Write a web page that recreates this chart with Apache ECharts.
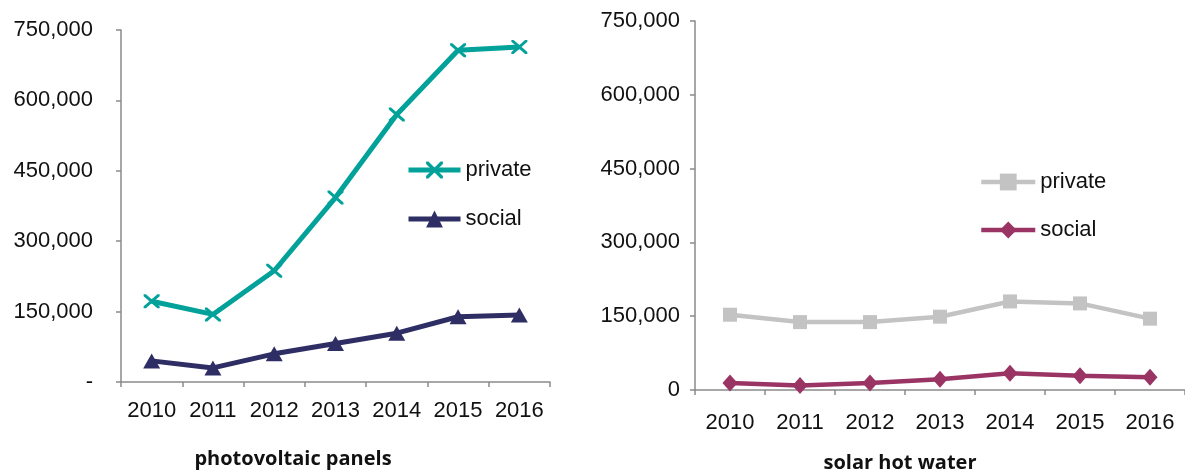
<!DOCTYPE html>
<html>
<head>
<meta charset="utf-8">
<script src="https://cdn.jsdelivr.net/npm/echarts@6/dist/echarts.min.js"></script>
<style>
  html, body { margin: 0; padding: 0; background: #ffffff; }
  #chart { width: 1185px; height: 474px; }
</style>
</head>
<body>
<div id="chart"></div>
<script>
// Installations per year
const years = ['2010', '2011', '2012', '2013', '2014', '2015', '2016'];

// Photovoltaic panels
const pvPrivate = [172000, 144000, 237000, 393000, 570000, 707000, 714000];
const pvSocial = [45000, 30000, 60000, 82000, 104000, 139000, 143000];

// Solar hot water
const shwPrivate = [153000, 138000, 138000, 149000, 180000, 176000, 145000];
const shwSocial = [14000, 9000, 14000, 22000, 34000, 29000, 26000];

// Value axis ticks (shared scale for both panels)
const yTicks = [0, 150000, 300000, 450000, 600000, 750000];
const yTickLabelsPV = ['-', '150,000', '300,000', '450,000', '600,000', '750,000'];
const yTickLabelsSHW = ['0', '150,000', '300,000', '450,000', '600,000', '750,000'];

const panelTitles = ['photovoltaic panels', 'solar hot water'];

const FONT = 'Liberation Sans, Arial, sans-serif';
const AXIS_GRAY = '#8a8a8a';
const TEAL = '#02a19a';
const NAVY = '#2f2e64';
const SILVER = '#c3c3c3';
const PLUM = '#9a3464';

// Cross marker built from two thin filled bars
const CROSS = 'path://M0,0L1.4,0L10,8.6L10,10L8.6,10L0,1.4Z M8.6,0L10,0L10,1.4L1.4,10L0,10L0,8.6Z';

function xAxisFor(gridIndex, margin) {
  return {
    type: 'category',
    gridIndex: gridIndex,
    data: years,
    boundaryGap: true,
    axisLine: { lineStyle: { color: AXIS_GRAY, width: 1.5 } },
    axisTick: { show: true, interval: 0, length: 5, lineStyle: { color: AXIS_GRAY, width: 1.5 } },
    axisLabel: { color: '#111', fontFamily: FONT, fontSize: 22, margin: margin, interval: 0 },
    splitLine: { show: false }
  };
}

function yAxisFor(gridIndex, labels, margin) {
  return {
    type: 'value',
    gridIndex: gridIndex,
    min: yTicks[0],
    max: yTicks[yTicks.length - 1],
    interval: yTicks[1] - yTicks[0],
    axisLine: { show: true, lineStyle: { color: AXIS_GRAY, width: 1.5 } },
    axisTick: { show: true, length: 5, lineStyle: { color: AXIS_GRAY, width: 1.5 } },
    axisLabel: {
      color: '#111', fontFamily: FONT, fontSize: 22, margin: margin,
      formatter: function (v) { return labels[yTicks.indexOf(v)]; }
    },
    splitLine: { show: false }
  };
}

function lineSeries(name, idx, data, color, width, symbol, size) {
  return {
    name: name,
    type: 'line',
    xAxisIndex: idx,
    yAxisIndex: idx,
    data: data,
    symbol: symbol,
    symbolSize: size,
    showAllSymbol: true,
    lineStyle: { color: color, width: width },
    itemStyle: { color: color, borderWidth: 0 },
    emphasis: { disabled: true },
    animation: false,
    z: name.indexOf('private') >= 0 ? 3 : 2
  };
}

const legendText = function (name) { return name.split(' ')[1]; };

const chart = echarts.init(document.getElementById('chart'), null, { renderer: 'canvas' });

chart.setOption({
  backgroundColor: '#ffffff',
  animation: false,
  title: [
    {
      text: panelTitles[0], left: 293, top: 449, textAlign: 'center', padding: 0,
      textStyle: { fontFamily: 'Open Sans, sans-serif', fontWeight: 'bold', fontSize: 20, color: '#111' }
    },
    {
      text: panelTitles[1], left: 900, top: 453, textAlign: 'center', padding: 0,
      textStyle: { fontFamily: 'Open Sans, sans-serif', fontWeight: 'bold', fontSize: 20, color: '#111' }
    }
  ],
  grid: [
    { left: 121, right: 635, top: 30, bottom: 92, containLabel: false },
    { left: 695, right: -2, top: 21, bottom: 84, containLabel: false }
  ],
  xAxis: [xAxisFor(0, 18), xAxisFor(1, 22)],
  yAxis: [yAxisFor(0, yTickLabelsPV, 28), yAxisFor(1, yTickLabelsSHW, 15)],
  legend: [
    {
      data: ['PV private', 'PV social'],
      orient: 'vertical',
      left: 406, top: 159, padding: 0,
      itemWidth: 52, itemHeight: 21, itemGap: 27,
      formatter: legendText,
      selectedMode: false,
      lineStyle: { width: 5 },
      textStyle: { fontFamily: FONT, fontSize: 22, color: '#111' }
    },
    {
      data: ['SHW private', 'SHW social'],
      orient: 'vertical',
      left: 979, top: 171, padding: 0,
      itemWidth: 54, itemHeight: 21, itemGap: 26,
      formatter: legendText,
      selectedMode: false,
      lineStyle: { width: 4.5 },
      textStyle: { fontFamily: FONT, fontSize: 22, color: '#111' }
    }
  ],
  series: [
    lineSeries('PV private', 0, pvPrivate, TEAL, 5, CROSS, [16, 14]),
    lineSeries('PV social', 0, pvSocial, NAVY, 5, 'triangle', [17, 15]),
    lineSeries('SHW private', 1, shwPrivate, SILVER, 4.5, 'rect', [14, 14]),
    lineSeries('SHW social', 1, shwSocial, PLUM, 4.5, 'diamond', [15, 17])
  ]
});
</script>
</body>
</html>
